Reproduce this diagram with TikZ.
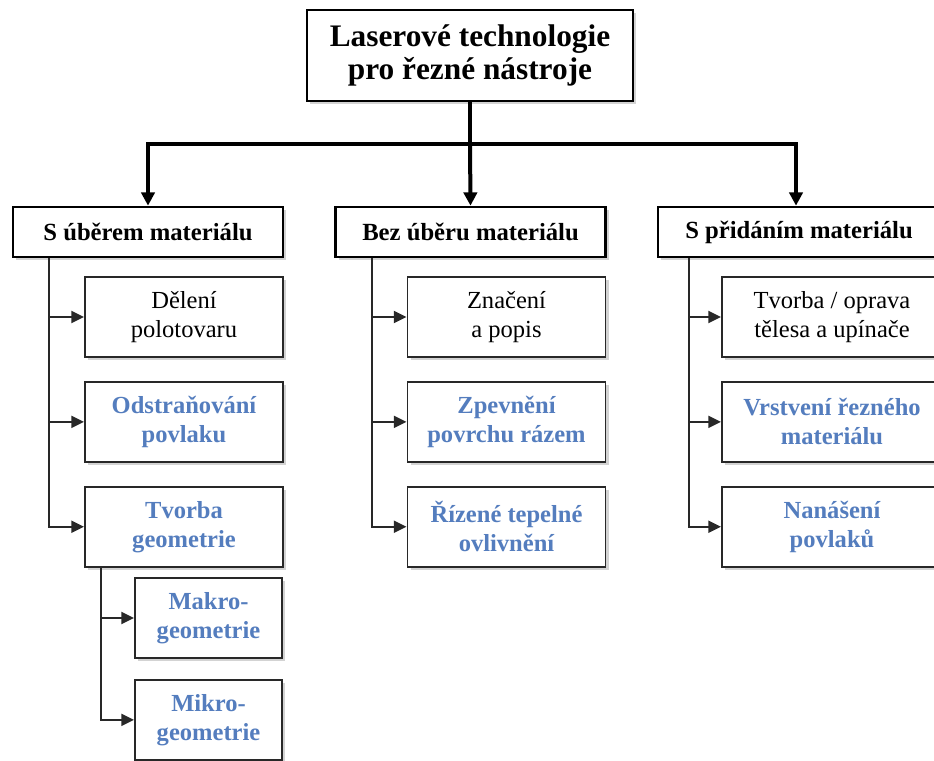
\documentclass[tikz,border=0pt]{standalone}
\usepackage{fontspec}
\setmainfont{Liberation Serif}
\usepackage{tikz}
\usetikzlibrary{arrows.meta,positioning,shadows}
\definecolor{leafblue}{RGB}{84,125,190}
\definecolor{boxgray}{RGB}{40,40,40}

\begin{document}
\begin{tikzpicture}[x=0.75pt, y=-0.75pt, node distance=17.25pt]
    \tikzset{box/.style={draw, rectangle, fill=white, align=center, inner sep=2pt,
                         drop shadow={shadow xshift=2.5pt, shadow yshift=-2.5pt, opacity=0.35}},
             rootbox/.style={box, line width=2.2pt, minimum width=244.5pt, minimum height=68.25pt,
                             font=\fontsize{23.5}{25}\selectfont\bfseries},
             groupbox/.style={box, line width=2pt, minimum height=37.5pt,
                              font=\fontsize{18.5}{22}\selectfont\bfseries},
             leaf/.style={box, draw=boxgray, line width=1.4pt, minimum height=60pt,
                          font=\fontsize{18.4}{21.75}\selectfont},
             leafhi/.style={leaf, text=leafblue, font=\fontsize{18.4}{21.75}\selectfont\bfseries},
             bus/.style={line width=3pt, -{Triangle[length=10pt,width=10pt]}},
             link/.style={line width=1.5pt, draw=boxgray, -{Triangle[length=9.5pt,width=9pt]}}}
    \useasboundingbox (0,0) rectangle (934,760);
    \clip (0,0) rectangle (934,760);

    \node[rootbox]  (root)      at (470,55.5) {Laserové technologie\\pro řezné nástroje};
    \node[groupbox, minimum width=202.5pt] (s_uber)    at (148,232)   {S úběrem materiálu};
    \node[groupbox, minimum width=202.5pt] (bez_uber)  at (470.5,232) {Bez úběru materiálu};
    \node[groupbox, minimum width=211.5pt] (s_pridani) at (799,232)   {S přidáním materiálu};

    \node[leaf, minimum width=148.5pt]   (deleni)     at (184,317) {Dělení\\polotovaru};
    \node[leafhi, minimum width=148.5pt] (odstranovani) [below=of deleni]       {Odstraňování\\povlaku};
    \node[leafhi, minimum width=148.5pt] (tvorba_geo)   [below=of odstranovani] {Tvorba\\geometrie};
    \node[leafhi, minimum width=110.25pt] (makro) at (208.5,618) {Makro-\\geometrie};
    \node[leafhi, minimum width=110.25pt] (mikro) [below=15pt of makro]         {Mikro-\\geometrie};

    \node[leaf, minimum width=148.5pt]   (znaceni)    at (506.5,317) {Značení\\a popis};
    \node[leafhi, minimum width=148.5pt] (zpevneni)   [below=of znaceni]  {Zpevnění\\povrchu rázem};
    \node[leafhi, minimum width=148.5pt] (rizene)     [below=of zpevneni] {Řízené tepelné\\ovlivnění};

    \node[leaf, minimum width=165pt]     (oprava)     at (832,317) {Tvorba / oprava\\tělesa a upínače};
    \node[leafhi, minimum width=165pt]   (vrstveni)   [below=of oprava]   {Vrstvení řezného\\materiálu};
    \node[leafhi, minimum width=165pt]   (nanaseni)   [below=of vrstveni] {Nanášení\\povlaků};

    \coordinate (fork) at ([yshift=-31.5pt]root.south);
    \draw[line width=3pt] (root.south) -- (fork);
    \draw[bus] (fork) -| (s_uber.north);
    \draw[bus] (fork) -- (bez_uber.north);
    \draw[bus] (fork) -| ([xshift=-2.25pt]s_pridani.north);

    \draw[link] ([xshift=27.75pt]s_uber.south west) |- (deleni.west);
    \draw[link] ([xshift=27.75pt]s_uber.south west) |- (odstranovani.west);
    \draw[link] ([xshift=27.75pt]s_uber.south west) |- (tvorba_geo.west);
    \draw[link] ([xshift=12.75pt]tvorba_geo.south west) |- (makro.west);
    \draw[link] ([xshift=12.75pt]tvorba_geo.south west) |- (mikro.west);

    \draw[link] ([xshift=28.5pt]bez_uber.south west) |- (znaceni.west);
    \draw[link] ([xshift=28.5pt]bez_uber.south west) |- (zpevneni.west);
    \draw[link] ([xshift=28.5pt]bez_uber.south west) |- (rizene.west);

    \draw[link] ([xshift=24pt]s_pridani.south west) |- (oprava.west);
    \draw[link] ([xshift=24pt]s_pridani.south west) |- (vrstveni.west);
    \draw[link] ([xshift=24pt]s_pridani.south west) |- (nanaseni.west);
\end{tikzpicture}
\end{document}
